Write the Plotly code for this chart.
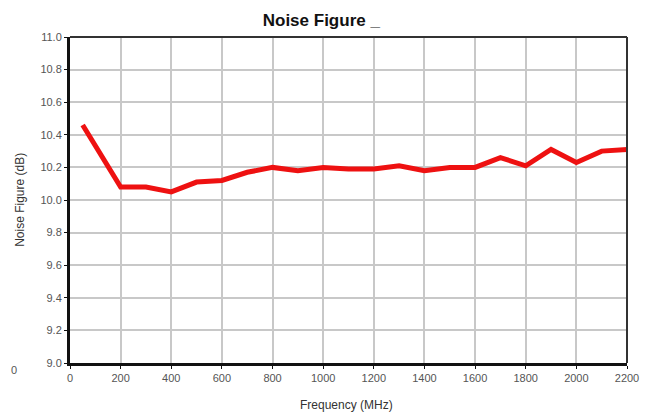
import plotly.graph_objects as go

freq_mhz = [50, 100, 200, 300, 400, 500, 600, 700, 800, 900, 1000, 1100, 1200,
            1300, 1400, 1500, 1600, 1700, 1800, 1900, 2000, 2100, 2200]
noise_figure_db = [10.46, 10.33, 10.08, 10.08, 10.05, 10.11, 10.12, 10.17, 10.20, 10.18,
                   10.20, 10.19, 10.19, 10.21, 10.18, 10.20, 10.20, 10.26, 10.21, 10.31,
                   10.23, 10.30, 10.31]
x_ticks = [0, 200, 400, 600, 800, 1000, 1200, 1400, 1600, 1800, 2000, 2200]
y_ticks = [9.0, 9.2, 9.4, 9.6, 9.8, 10.0, 10.2, 10.4, 10.6, 10.8, 11.0]

fig = go.Figure()
fig.add_trace(go.Scatter(x=freq_mhz, y=noise_figure_db, mode="lines",
                         line=dict(color="#ee1111", width=5), showlegend=False))

font = "Liberation Sans, Arial, sans-serif"
fig.update_layout(
    width=646, height=407,
    margin=dict(l=62, r=27, t=29, b=52),
    paper_bgcolor="white", plot_bgcolor="white",
    title=dict(text="<b>Noise Figure _</b>", x=0.485, xanchor="center", y=0.97, yanchor="middle",
               font=dict(family=font, size=17, color="#111")),
    font=dict(family=font, size=11, color="#444"),
    xaxis=dict(range=[0, 2200], tickvals=x_ticks, ticktext=[str(v) for v in x_ticks],
               showgrid=True, gridcolor="#c8c8c8", gridwidth=1.5, automargin=False,
               showline=True, linecolor="#111", linewidth=3, mirror=False,
               ticks="outside", ticklen=3, tickcolor="#111", zeroline=False,
               tickfont=dict(size=11, color="#555")),
    yaxis=dict(range=[9.0, 11.0], tickvals=y_ticks, ticktext=[f"{v:.1f}" for v in y_ticks],
               showgrid=True, gridcolor="#c8c8c8", gridwidth=1.5, automargin=False,
               showline=True, linecolor="#111", linewidth=3,
               ticks="outside", ticklen=3, tickcolor="#111", zeroline=False,
               tickfont=dict(size=11, color="#555")),
)
# thinner top/right frame
fig.add_shape(type="line", xref="paper", yref="paper", x0=0, x1=1, y0=1, y1=1,
              line=dict(color="#333", width=2))
fig.add_shape(type="line", xref="paper", yref="paper", x0=1, x1=1, y0=0, y1=1,
              line=dict(color="#333", width=2))
# axis titles
fig.add_annotation(text="Frequency (MHz)", xref="paper", yref="paper", x=0.497, y=-0.13,
                   showarrow=False, font=dict(size=12, color="#333"), yanchor="middle")
fig.add_annotation(text="Noise Figure (dB)", xref="paper", yref="paper", x=-0.09, y=0.5,
                   textangle=-90, showarrow=False, font=dict(size=12, color="#333"),
                   xanchor="center", yanchor="middle")
fig.add_annotation(text="0", xref="paper", yref="paper", x=-0.109, y=-0.045,
                   showarrow=False, font=dict(size=11, color="#555"), xanchor="left")

fig.write_html("out.html")
